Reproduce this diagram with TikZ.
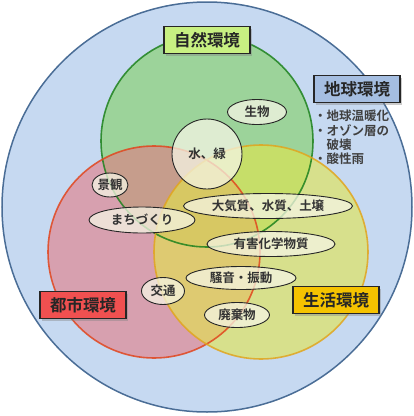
\documentclass[tikz,border=0pt]{standalone}
\usepackage{fontspec}
\newfontfamily\jp{Noto Sans CJK JP}[BoldFont={Noto Sans CJK JP Bold}]
\usetikzlibrary{shapes.geometric,shadows}
\definecolor{earthfill}{RGB}{198,217,241}
\definecolor{earthline}{RGB}{74,109,150}
\definecolor{natfill}{RGB}{128,208,96}
\definecolor{natline}{RGB}{30,130,30}
\definecolor{cityfill}{RGB}{227,122,131}
\definecolor{cityline}{RGB}{225,70,30}
\definecolor{lifefill}{RGB}{227,230,73}
\definecolor{lifeline}{RGB}{225,165,30}
\definecolor{natbox}{RGB}{200,240,130}
\definecolor{earthbox}{RGB}{165,190,225}
\definecolor{citybox}{RGB}{240,80,80}
\definecolor{lifebox}{RGB}{245,195,0}
\definecolor{ellfill}{RGB}{245,245,228}
\begin{document}
\begin{tikzpicture}[x=1pt,y=-1pt,
  labelbox/.style={draw=black!85, line width=1.2pt, rectangle, minimum width=86pt, minimum height=27pt,
    inner sep=2pt, font=\jp\bfseries\fontsize{16.5}{16.5}\selectfont, text=black!85,
    drop shadow={shadow xshift=2pt, shadow yshift=-2pt, opacity=0.4}},
  ellbox/.style={ellipse, draw=black!85, line width=0.9pt, fill=ellfill, fill opacity=0.75, text opacity=1,
    inner sep=0pt, font=\jp\bfseries\fontsize{12.5}{12.5}\selectfont, text=black!80},
  bigfill/.style={fill opacity=0.6},
  bigline/.style={line width=1.6pt, draw opacity=0.85}
]
\useasboundingbox (0,0) rectangle (414,416);
\coordinate (cE) at (207,207);
\coordinate (cN) at (207,141);
\coordinate (cC) at (154,252);
\coordinate (cL) at (261,252);
% earth
\fill[earthfill] (cE) circle[radius=205pt];
\draw[earthline, line width=1.5pt] (cE) circle[radius=205pt];
% fills
\fill[natfill, bigfill] (cN) circle[radius=106pt];
\fill[cityfill, bigfill] (cC) circle[radius=106pt];
\fill[lifefill, bigfill] (cL) circle[radius=107pt];
% borders
\draw[natline, bigline] (cN) circle[radius=106pt];
\draw[cityline, bigline] (cC) circle[radius=106pt];
\draw[lifeline, bigline] (cL) circle[radius=107pt];
% labels
\node[labelbox, fill=natbox] (lN) at (207,40) {自然環境};
\node[labelbox, fill=earthbox] (lE) at (357,89) {地球環境};
\node[labelbox, fill=citybox] (lC) at (83,305) {都市環境};
\node[labelbox, fill=lifebox] (lL) at (336,300) {生活環境};
\node[anchor=north west, align=left, inner sep=0pt, text=black!75,
  font=\jp\bfseries\fontsize{12.5}{14.2}\selectfont] (list) at (314,110)
  {・地球温暖化\\・オゾン層の\\\phantom{・}破壊\\・酸性雨};
% items
\node[ellbox, minimum width=59pt, minimum height=25pt] (bio) at (257,112) {生物};
\node[ellbox, circle, minimum size=70pt] (water) at (207,154) {水、緑};
\node[ellbox, minimum width=36pt, minimum height=24pt] (view) at (110,185) {景観};
\node[ellbox, minimum width=106pt, minimum height=26pt] (town) at (142,220) {まちづくり};
\node[ellbox, minimum width=169pt, minimum height=25pt] (air) at (268,206) {大気質、水質、土壌};
\node[ellbox, minimum width=128pt, minimum height=25pt] (chem) at (271,244) {有害化学物質};
\node[ellbox, minimum width=110pt, minimum height=23pt] (noise) at (241,278) {騒音・振動};
\node[ellbox, minimum width=43pt, minimum height=27pt] (traffic) at (163,291) {交通};
\node[ellbox, minimum width=65pt, minimum height=25pt] (waste) at (237,315) {廃棄物};
\end{tikzpicture}
\end{document}
